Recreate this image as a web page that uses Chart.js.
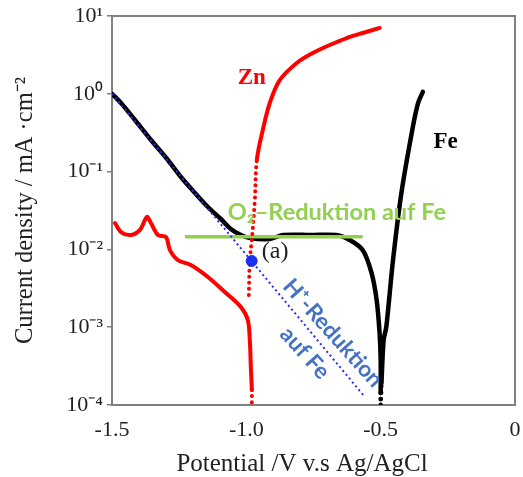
<!DOCTYPE html>
<html>
<head>
<meta charset="utf-8">
<script src="https://cdn.jsdelivr.net/npm/chart.js@4.4.1/dist/chart.umd.min.js"></script>
<style>
  html, body { margin: 0; padding: 0; background: #ffffff; }
  #wrap { width: 523px; height: 477px; }
</style>
</head>
<body>
<div id="wrap"><canvas id="c" width="523" height="477"></canvas></div>
<script>
// ---- data (potential in V vs Ag/AgCl, current density in mA cm^-2) ----
const fePotential = [-1.5, -1.4665, -1.4145, -1.355, -1.292, -1.2435, -1.191, -1.143, -1.095, -1.058, -1.020, -0.987, -0.913, -0.864, -0.760, -0.664, -0.615, -0.567, -0.534, -0.515, -0.504, -0.500, -0.500, -0.500, -0.497, -0.489, -0.479, -0.454, -0.423, -0.380, -0.361, -0.343];
const feCurrent   = [1.0, 0.76, 0.46, 0.255, 0.141, 0.0853, 0.0531, 0.0351, 0.0246, 0.0183, 0.0153, 0.0140, 0.0136, 0.0153, 0.0153, 0.0153, 0.0132, 0.0098, 0.0050, 0.00224, 0.00084, 0.00038, 0.000143, 0.0001, 0.00019, 0.00068, 0.00101, 0.0073, 0.0526, 0.378, 0.755, 1.06];

const znCathodicPotential = [-1.4888, -1.4665, -1.4294, -1.396, -1.37, -1.355, -1.329, -1.299, -1.2844, -1.2546, -1.2063, -1.143, -1.08, -1.0204, -0.9944, -0.987, -0.9833, -0.9796, -0.9796];
const znCathodicCurrent   = [0.0218, 0.0167, 0.0153, 0.0178, 0.0261, 0.0218, 0.0153, 0.0144, 0.0098, 0.0073, 0.0063, 0.00442, 0.00283, 0.00182, 0.00124, 0.00068, 0.000308, 0.000156, 0.0001];

const znAnodicPotential = [-0.9907, -0.987, -0.9796, -0.9684, -0.961, -0.9387, -0.9126, -0.8755, -0.8123, -0.7528, -0.6896, -0.6264, -0.5669, -0.5037];
const znAnodicCurrent   = [0.00259, 0.0073, 0.0132, 0.0431, 0.141, 0.343, 0.762, 1.50, 2.49, 3.34, 4.24, 5.21, 6.04, 7.02];

const hReductionPotential = [-1.5, -0.559];
const hReductionCurrent   = [1.0, 0.000127];

const o2ReductionPotential = [-1.229, -0.567];
const o2ReductionCurrent   = [0.0145, 0.0145];

const pointAPotential = [-0.980];
const pointACurrent   = [0.0071];

const xTickValues = [-1.5, -1.0, -0.5, 0];
const xTickLabels = ['-1.5', '-1.0', '-0.5', '0'];
const yTickValues = [1e-4, 1e-3, 1e-2, 1e-1, 1, 10];
const yTickLabels = ['10\u207B\u2074', '10\u207B\u00B3', '10\u207B\u00B2', '10\u207B\u00B9', '10\u2070', '10\u00B9'];

const toPoints = (xs, ys) => xs.map((x, i) => ({ x: x, y: ys[i] }));

const SERIF = '"Liberation Serif", "Times New Roman", serif';
const SANS = 'Lato, "Open Sans", sans-serif';

const annotationPlugin = {
  id: 'annotations',
  afterDatasetsDraw(chart) {
    const { ctx, chartArea, scales } = chart;
    const X = v => scales.x.getPixelForValue(v);
    const Y = v => scales.y.getPixelForValue(v);
    ctx.save();
    // frame (top and right sides)
    ctx.strokeStyle = '#808080';
    ctx.lineWidth = 2;
    ctx.beginPath();
    ctx.moveTo(chartArea.left, chartArea.top);
    ctx.lineTo(chartArea.right, chartArea.top);
    ctx.lineTo(chartArea.right, chartArea.bottom);
    ctx.stroke();

    ctx.textBaseline = 'middle';
    // Zn
    ctx.fillStyle = '#ff0000';
    ctx.font = 'bold 23px ' + SERIF;
    ctx.textAlign = 'center';
    ctx.fillText('Zn', X(-0.98), Y(1.6));
    // Fe
    ctx.fillStyle = '#000000';
    ctx.fillText('Fe', X(-0.258), Y(0.24));
    // (a)
    ctx.font = '24px ' + SERIF;
    ctx.textAlign = 'left';
    ctx.fillStyle = '#222222';
    ctx.fillText('(a)', X(-0.9424), Y(0.00927));
    // O2 reduction label
    ctx.font = 'bold 23.5px ' + SANS;
    ctx.fillStyle = '#92d050';
    ctx.fillText('O\u2082\u2013Reduktion auf Fe', X(-1.0688), Y(0.0303));
    // H+ reduction label (rotated)
    ctx.font = 'bold 22.5px ' + SANS;
    ctx.fillStyle = '#4472c4';
    ctx.textAlign = 'center';
    const ang = 48 * Math.PI / 180;
    ctx.save();
    ctx.translate(X(-0.6784), Y(0.00084));
    ctx.rotate(ang);
    ctx.fillText('H\u207A-Reduktion', 0, 0);
    ctx.restore();
    ctx.save();
    ctx.translate(X(-0.7825), Y(0.000466));
    ctx.rotate(ang);
    ctx.fillText('auf Fe', 0, 0);
    ctx.restore();
    // x axis title
    ctx.font = '25px ' + SERIF;
    ctx.fillStyle = '#222222';
    ctx.textAlign = 'center';
    ctx.fillText('Potential /V v.s Ag/AgCl', 302, 464);
    ctx.restore();
  }
};

new Chart(document.getElementById('c'), {
  type: 'scatter',
  data: {
    datasets: [
      {
        label: 'Fe',
        data: toPoints(fePotential, feCurrent),
        showLine: true,
        borderColor: '#000000',
        borderWidth: 4.5,
        borderCapStyle: 'round',
        borderJoinStyle: 'round',
        pointRadius: 0,
        tension: 0.3,
        order: 5,
        segment: {
          borderDash: c => (c.p0.parsed.y < 1.6e-4 && c.p1.parsed.y < 2.0e-4) ? [0.1, 6] : undefined
        }
      },
      {
        label: 'O2-Reduktion',
        data: toPoints(o2ReductionPotential, o2ReductionCurrent),
        showLine: true,
        borderColor: '#92d050',
        borderWidth: 3.5,
        pointRadius: 0,
        order: 4
      },
      {
        label: 'H+-Reduktion',
        data: toPoints(hReductionPotential, hReductionCurrent),
        showLine: true,
        borderColor: '#2b2bf5',
        borderWidth: 2,
        borderDash: [2, 3],
        pointRadius: 0,
        order: 3
      },
      {
        label: 'Zn kathodisch',
        data: toPoints(znCathodicPotential, znCathodicCurrent),
        showLine: true,
        borderColor: '#ff0000',
        borderWidth: 4,
        borderCapStyle: 'round',
        borderJoinStyle: 'round',
        pointRadius: 0,
        tension: 0.3,
        order: 2,
        segment: {
          borderDash: c => (c.p0.parsed.y < 2.0e-4) ? [0.1, 6] : undefined
        }
      },
      {
        label: 'Zn anodisch',
        data: toPoints(znAnodicPotential, znAnodicCurrent),
        showLine: true,
        borderColor: '#ff0000',
        borderWidth: 4,
        borderCapStyle: 'round',
        borderJoinStyle: 'round',
        pointRadius: 0,
        tension: 0.35,
        order: 2,
        segment: {
          borderDash: c => (c.p0.parsed.y < 0.1) ? [0.1, 6] : undefined
        }
      },
      {
        label: '(a)',
        data: toPoints(pointAPotential, pointACurrent),
        showLine: false,
        pointRadius: 5.5,
        pointBackgroundColor: '#1a2ff0',
        pointBorderColor: '#1a2ff0',
        order: 1
      }
    ]
  },
  options: {
    responsive: false,
    animation: false,
    devicePixelRatio: 1,
    layout: { padding: { top: 16, right: 8, left: 0, bottom: 0 } },
    plugins: {
      legend: { display: false },
      tooltip: { enabled: false },
      title: { display: false }
    },
    scales: {
      x: {
        type: 'linear',
        min: -1.5,
        max: 0,
        afterFit: s => { s.height = 72; s.paddingLeft = 0; s.paddingRight = 0; },
        afterBuildTicks: s => { s.ticks = xTickValues.map(v => ({ value: v })); },
        ticks: {
          callback: (v) => xTickLabels[xTickValues.indexOf(v)] ?? '',
          font: { family: SERIF, size: 22 },
          color: '#222222',
          padding: 12,
          maxRotation: 0,
          autoSkip: false
        },
        grid: { display: false, drawTicks: false },
        border: { display: true, color: '#808080', width: 2 }
      },
      y: {
        type: 'logarithmic',
        min: 1e-4,
        max: 10,
        afterFit: s => { s.width = 112; s.paddingTop = 0; s.paddingBottom = 0; },
        afterBuildTicks: s => { s.ticks = yTickValues.map(v => ({ value: v })); },
        ticks: {
          callback: (v) => {
            const i = yTickValues.findIndex(t => Math.abs(Math.log10(t) - Math.log10(v)) < 1e-6);
            return i >= 0 ? yTickLabels[i] : '';
          },
          font: { family: SERIF, size: 22 },
          color: '#222222',
          padding: 4,
          autoSkip: false
        },
        grid: { display: true, drawOnChartArea: false, drawTicks: true, tickLength: 5, color: '#808080', lineWidth: 1.5 },
        border: { display: true, color: '#808080', width: 2 },
        title: {
          display: true,
          text: 'Current density / mA \u00B7cm\u207B\u00B2',
          font: { family: SERIF, size: 24.5 },
          color: '#222222',
          padding: { top: 11, bottom: 0 }
        }
      }
    }
  },
  plugins: [annotationPlugin]
});
</script>
</body>
</html>
